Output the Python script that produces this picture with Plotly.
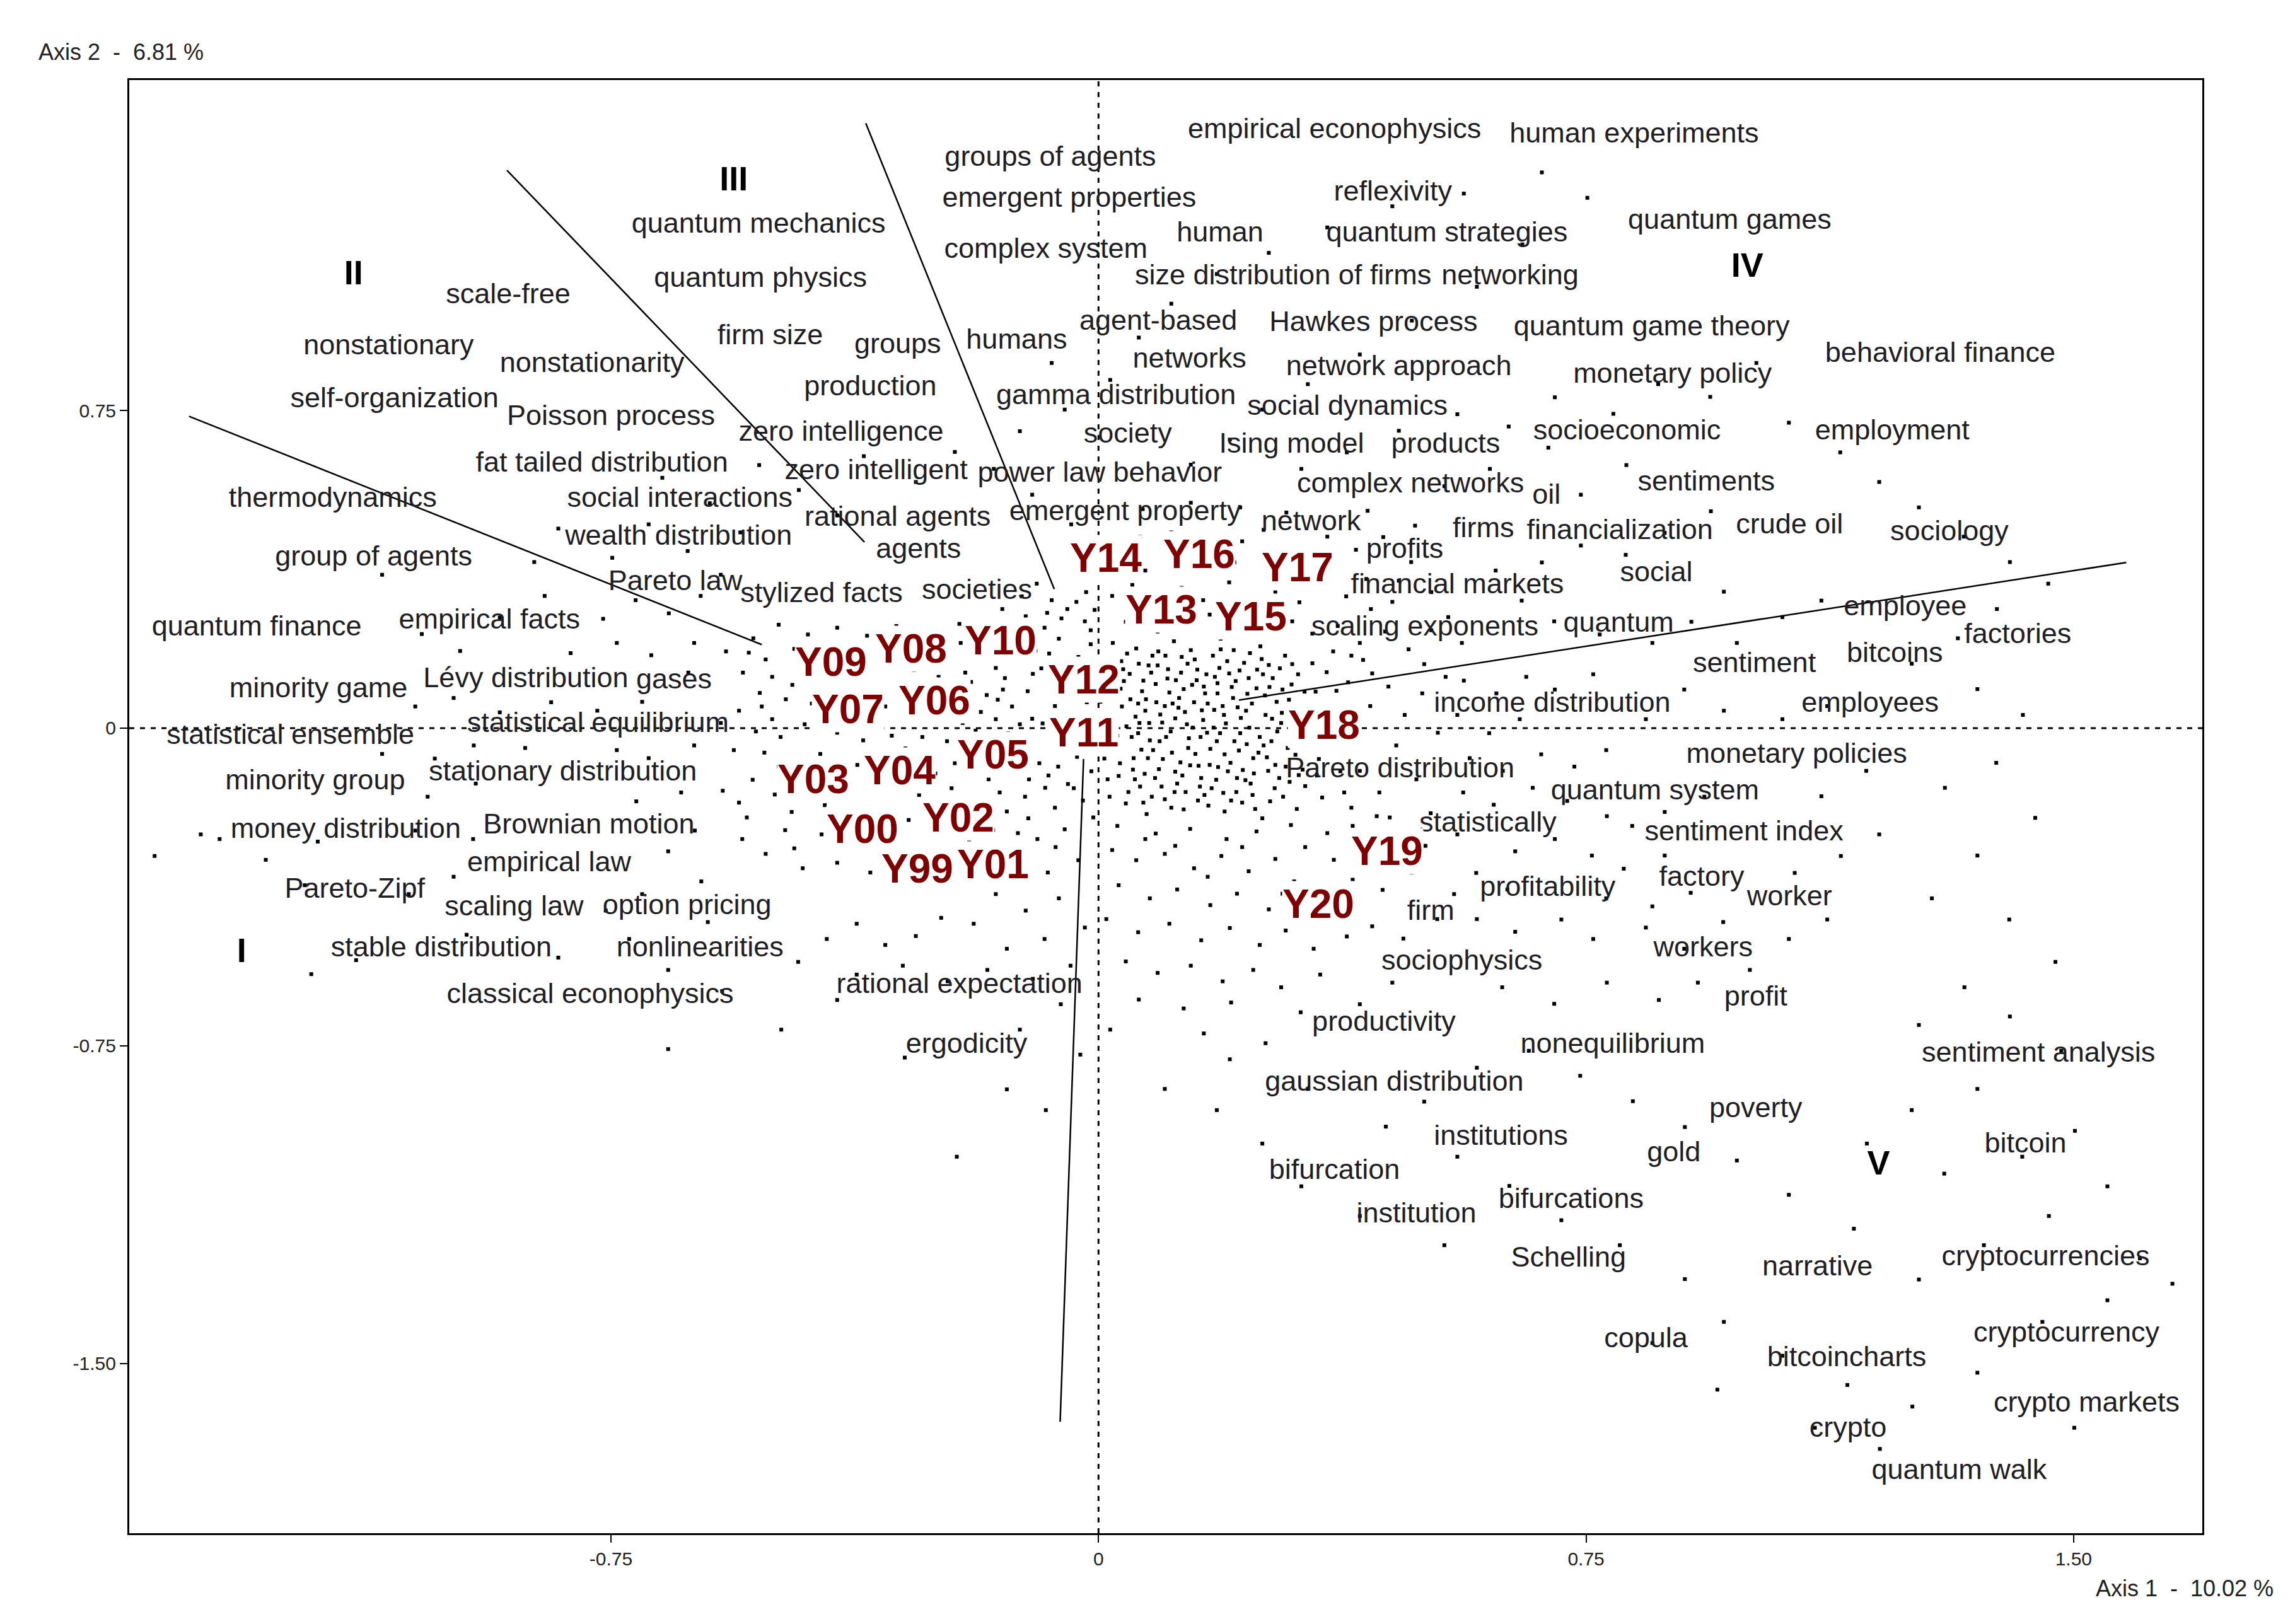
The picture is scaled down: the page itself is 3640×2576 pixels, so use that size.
import plotly.graph_objects as go

# --- axes -------------------------------------------------------------
x_range = [-1.491, 1.698]
y_range = [-1.901, 1.530]
x_ticks = [-0.75, 0, 0.75, 1.5]
x_tick_text = ["-0.75", "0", "0.75", "1.50"]
y_ticks = [-1.5, -0.75, 0, 0.75]
y_tick_text = ["-1.50", "-0.75", "0", "0.75"]

# --- word labels (axis 1, axis 2 coordinates) ---------------------------
word_labels = [
    "empirical econophysics", "human experiments", "groups of agents", "emergent properties",
    "reflexivity", "quantum strategies", "quantum games", "human", "complex system",
    "size distribution of firms", "networking", "scale-free", "quantum mechanics",
    "quantum physics", "firm size", "groups", "humans", "agent-based", "Hawkes process",
    "quantum game theory", "behavioral finance", "nonstationary", "nonstationarity",
    "networks", "network approach", "monetary policy", "production", "gamma distribution",
    "social dynamics", "self-organization", "Poisson process", "zero intelligence",
    "society", "Ising model", "products", "socioeconomic", "employment",
    "fat tailed distribution", "zero intelligent", "power law behavior", "complex networks",
    "oil", "sentiments", "thermodynamics", "social interactions", "rational agents",
    "emergent property", "network", "firms", "financialization", "crude oil", "sociology",
    "wealth distribution", "group of agents", "agents", "profits", "social", "Pareto law",
    "stylized facts", "societies", "financial markets", "employee", "factories",
    "scaling exponents", "quantum", "quantum finance", "empirical facts", "sentiment",
    "bitcoins", "minority game", "Lévy distribution", "gases", "income distribution",
    "employees", "statistical ensemble", "statistical equilibrium", "monetary policies",
    "minority group", "stationary distribution", "Pareto distribution", "quantum system",
    "money distribution", "Brownian motion", "statistically", "sentiment index",
    "empirical law", "Pareto-Zipf", "scaling law", "option pricing", "firm",
    "profitability", "factory", "worker", "stable distribution", "nonlinearities",
    "workers", "sociophysics", "rational expectation", "classical econophysics", "profit",
    "productivity", "ergodicity", "nonequilibrium", "sentiment analysis",
    "gaussian distribution", "poverty", "institutions", "gold", "bitcoin", "bifurcation",
    "bifurcations", "institution", "Schelling", "narrative", "cryptocurrencies", "copula",
    "cryptocurrency", "bitcoincharts", "crypto markets", "crypto", "quantum walk",
]
word_x = [
    0.363, 0.824, -0.074, -0.045,
    0.453, 0.536, 0.971, 0.187, -0.081,
    0.284, 0.633, -0.908, -0.523,
    -0.520, -0.505, -0.309, -0.126, 0.092, 0.423,
    0.851, 1.295, -1.092, -0.779,
    0.140, 0.462, 0.883, -0.351, 0.027,
    0.383, -1.083, -0.750, -0.396,
    0.045, 0.297, 0.534, 0.813, 1.221,
    -0.764, -0.342, 0.002, 0.480,
    0.689, 0.935, -1.178, -0.644, -0.309,
    0.041, 0.327, 0.592, 0.802, 1.063, 1.309,
    -0.646, -1.115, -0.277, 0.471, 0.858, -0.651,
    -0.426, -0.187, 0.552, 1.241, 1.414,
    0.502, 0.800, -1.295, -0.937, 1.009,
    1.225, -1.200, -0.881, -0.653, 0.698,
    1.187, -1.243, -0.770, 1.074,
    -1.205, -0.824, 0.464, 0.856,
    -1.158, -0.784, 0.599, 0.993,
    -0.845, -1.144, -0.899, -0.633, 0.511,
    0.691, 0.928, 1.063, -1.011, -0.613,
    0.930, 0.559, -0.214, -0.782, 1.011,
    0.439, -0.203, 0.791, 1.446,
    0.455, 1.011, 0.619, 0.885, 1.426, 0.363,
    0.727, 0.489, 0.723, 1.106, 1.457, 0.842,
    1.489, 1.151, 1.520, 1.153, 1.324,
]
word_y = [
    1.410, 1.400, 1.345, 1.248,
    1.262, 1.165, 1.196, 1.165, 1.127,
    1.065, 1.065, 1.020, 1.186,
    1.058, 0.923, 0.902, 0.913, 0.957, 0.954,
    0.944, 0.881, 0.899, 0.857,
    0.868, 0.850, 0.833, 0.802, 0.781,
    0.757, 0.774, 0.733, 0.695,
    0.691, 0.667, 0.667, 0.698, 0.698,
    0.622, 0.605, 0.598, 0.574,
    0.546, 0.577, 0.539, 0.539, 0.494,
    0.508, 0.484, 0.467, 0.463, 0.477, 0.460,
    0.449, 0.401, 0.418, 0.418, 0.363, 0.342,
    0.315, 0.321, 0.335, 0.283, 0.218,
    0.235, 0.245, 0.235, 0.252, 0.149,
    0.173, 0.090, 0.114, 0.111, 0.055,
    0.055, -0.021, 0.007, -0.066,
    -0.128, -0.107, -0.100, -0.152,
    -0.242, -0.232, -0.228, -0.249,
    -0.321, -0.384, -0.425, -0.422, -0.436,
    -0.380, -0.356, -0.401, -0.522, -0.522,
    -0.522, -0.553, -0.608, -0.633, -0.639,
    -0.698, -0.750, -0.750, -0.771,
    -0.840, -0.902, -0.968, -1.006, -0.985, -1.047,
    -1.116, -1.151, -1.255, -1.275, -1.251, -1.445,
    -1.431, -1.490, -1.597, -1.656, -1.756,
]

# --- year points --------------------------------------------------------
year_labels = ["Y99", "Y00", "Y01", "Y02", "Y03", "Y04", "Y05", "Y06", "Y07", "Y08",
               "Y09", "Y10", "Y11", "Y12", "Y13", "Y14", "Y15", "Y16", "Y17", "Y18",
               "Y19", "Y20"]
year_x = [-0.279, -0.363, -0.162, -0.216, -0.439, -0.306, -0.162, -0.252, -0.385, -0.288,
          -0.412, -0.151, -0.023, -0.023, 0.097, 0.011, 0.234, 0.155, 0.306, 0.347,
          0.444, 0.338]
year_y = [-0.332, -0.239, -0.321, -0.211, -0.121, -0.100, -0.062, 0.066, 0.045, 0.187,
          0.156, 0.207, -0.010, 0.114, 0.280, 0.401, 0.263, 0.411, 0.380, 0.007,
          -0.290, -0.415]

# --- cluster zones ------------------------------------------------------
zone_labels = ["I", "II", "III", "IV", "V"]
zone_x = [-1.318, -1.146, -0.561, 0.998, 1.200]
zone_y = [-0.532, 1.068, 1.289, 1.085, -1.034]

# separating segments: (x0, y0) -> (x1, y1)
sep_x0 = [-1.399, -0.910, -0.358, 1.581, -0.023]
sep_y0 = [0.736, 1.317, 1.428, 0.391, -0.073]
sep_x1 = [-0.518, -0.360, -0.068, 0.216, -0.059]
sep_y1 = [0.197, 0.439, 0.328, 0.066, -1.638]

# --- cloud of individual documents ------------------------------------
core_dots = [
    (0.021, 0.162), (0.048, 0.128), (0.083, 0.171), (0.107, 0.139), (0.142, 0.184), (0.166, 0.127),
    (0.198, 0.158), (0.231, 0.118), (0.262, 0.149), (0.034, 0.093), (0.061, 0.058), (0.088, 0.104),
    (0.124, 0.071), (0.151, 0.113), (0.183, 0.082), (0.214, 0.049), (0.243, 0.094), (0.274, 0.062),
    (0.297, 0.103), (0.012, 0.031), (0.043, 0.004), (0.072, 0.041), (0.098, 0.013), (0.133, 0.038),
    (0.161, 0.019), (0.187, -0.012), (0.219, 0.024), (0.248, -0.021), (0.281, 0.012), (0.026, -0.043),
    (0.054, -0.071), (0.079, -0.029), (0.113, -0.058), (0.139, -0.024), (0.172, -0.049), (0.203, -0.082),
    (0.228, -0.038), (0.259, -0.069), (0.291, -0.047), (0.031, -0.113), (0.064, -0.138), (0.093, -0.097),
    (0.121, -0.131), (0.154, -0.089), (0.181, -0.122), (0.212, -0.151), (0.239, -0.107), (0.271, -0.142),
    (0.042, -0.178), (0.074, -0.203), (0.102, -0.168), (0.131, -0.192), (0.163, -0.158), (0.194, -0.197),
    (0.221, -0.176), (0.252, -0.213), (0.015, 0.112), (0.067, 0.087), (0.091, 0.148), (0.118, 0.023),
    (0.147, 0.061), (0.176, 0.171), (0.205, 0.097), (0.236, 0.058), (0.268, 0.118), (0.018, -0.008),
    (0.057, 0.027), (0.084, -0.052), (0.126, -0.081), (0.158, -0.118), (0.191, 0.052), (0.226, -0.123),
    (0.257, 0.031), (0.288, -0.091), (0.036, 0.051), (0.071, -0.108), (0.109, 0.084), (0.137, 0.152),
    (0.169, -0.183), (0.201, 0.129), (0.233, 0.177), (0.264, -0.173), (0.009, -0.072), (0.046, -0.151),
    (0.097, -0.138), (0.145, 0.001), (0.178, 0.043), (0.209, -0.031), (0.246, -0.058), (0.278, -0.118),
    (0.312, 0.041), (0.326, -0.028), (0.318, -0.137), (0.334, 0.086), (0.305, -0.191), (0.339, -0.073),
    (0.022, 0.201), (0.058, 0.188), (0.116, 0.205), (0.188, 0.211), (0.249, 0.193), (0.287, 0.171),
    (0.351, 0.132), (0.362, 0.021), (0.344, -0.164), (0.372, -0.102), (0.029, -0.231), (0.088, -0.249),
    (0.141, -0.238), (0.197, -0.262), (0.243, -0.244), (0.296, -0.229), (0.003, 0.062), (0.014, -0.121),
    (0.061, -0.012), (0.104, -0.021), (0.149, -0.061), (0.183, 0.106), (0.217, 0.136), (0.222, -0.099),
    (0.256, 0.077), (0.275, -0.008), (0.303, -0.063), (0.119, 0.113), (0.081, 0.131), (0.134, -0.151),
    (0.171, -0.087), (0.069, -0.176), (0.192, -0.153), (0.038, 0.139), (0.102, 0.052), (0.164, 0.082),
    (0.196, 0.011), (0.053, -0.098), (0.118, -0.103), (0.237, -0.158), (0.078, 0.012), (0.208, 0.184),
    (0.027, 0.072), (0.044, 0.176), (0.069, 0.112), (0.076, -0.071), (0.095, 0.032), (0.112, -0.188),
    (0.128, 0.168), (0.131, 0.092), (0.138, -0.047), (0.152, 0.138), (0.157, -0.021), (0.168, 0.058),
    (0.174, -0.142), (0.186, 0.142), (0.194, -0.062), (0.207, 0.071), (0.213, -0.118), (0.224, 0.154),
    (0.232, 0.001), (0.241, -0.191), (0.253, 0.127), (0.261, -0.101), (0.267, 0.022), (0.279, 0.141),
    (0.284, -0.162), (0.293, 0.067), (0.299, -0.012), (0.307, 0.127), (0.314, -0.098), (0.322, 0.008),
    (0.329, 0.153), (0.336, -0.112), (0.341, 0.051), (0.357, -0.041), (0.366, 0.088), (0.378, -0.152),
    (0.011, 0.142), (0.017, -0.162), (0.024, 0.012), (0.033, -0.083), (0.039, 0.111), (0.051, -0.021),
    (0.062, 0.152), (0.066, -0.051), (0.073, 0.068), (0.087, -0.118), (0.092, 0.181), (0.099, -0.073),
    (0.106, 0.117), (0.111, -0.008), (0.123, 0.048), (0.129, -0.112), (0.144, 0.102), (0.153, -0.171),
    (0.159, 0.042), (0.177, 0.001), (0.182, -0.031), (0.188, 0.186), (0.199, -0.102), (0.216, -0.053),
    (0.229, 0.081), (0.238, -0.071), (0.251, 0.163), (0.266, -0.031), (0.283, 0.091), (0.294, -0.127),
    (0.007, 0.088), (0.029, -0.018), (0.035, 0.158), (0.049, 0.068), (0.056, -0.121), (0.063, 0.012),
    (0.077, 0.148), (0.082, -0.162), (0.089, 0.061), (0.094, -0.031), (0.103, 0.171), (0.114, 0.058),
    (0.117, -0.151), (0.127, 0.131), (0.136, 0.009), (0.141, -0.088), (0.148, 0.162), (0.156, -0.138),
    (0.162, 0.098), (0.167, -0.011), (0.179, 0.121), (0.184, -0.092), (0.193, 0.031), (0.204, -0.171),
    (0.211, 0.111), (0.218, -0.012), (0.227, 0.041), (0.234, -0.131), (0.244, 0.138), (0.254, -0.041),
    (0.263, 0.097), (0.272, -0.087), (0.282, 0.036), (0.298, 0.151), (0.308, -0.111), (0.317, 0.086),
]
inner_dots = [
    (-0.021, 0.252), (-0.048, 0.281), (-0.083, 0.237), (-0.112, 0.264), (-0.139, 0.229), (-0.012, 0.198),
    (-0.061, 0.211), (-0.097, 0.182), (-0.128, 0.203), (-0.031, 0.168), (-0.088, 0.141), (-0.124, 0.159),
    (-0.144, 0.118), (-0.109, 0.087), (-0.133, 0.051), (-0.102, 0.022), (-0.139, -0.012), (-0.118, -0.047),
    (-0.091, -0.083), (-0.128, -0.104), (-0.062, -0.091), (-0.033, -0.068), (-0.011, -0.102), (-0.047, -0.132),
    (-0.082, -0.141), (-0.113, -0.162), (-0.019, 0.321), (-0.072, 0.302), (-0.118, 0.311), (-0.041, 0.354),
    (-0.095, 0.341), (-0.006, 0.279), (-0.148, 0.281), (-0.155, 0.067), (-0.162, -0.071), (-0.024, -0.171),
    (-0.067, -0.188), (-0.108, -0.213), (-0.141, -0.197), (-0.008, -0.211), (-0.052, -0.239), (-0.094, -0.262),
    (-0.012, 0.231), (-0.057, 0.259), (-0.076, 0.176), (-0.101, 0.128), (-0.172, 0.231), (-0.214, 0.246),
    (-0.263, 0.228), (-0.311, 0.241), (-0.356, 0.218), (-0.402, 0.237), (-0.447, 0.221), (-0.492, 0.244),
    (-0.531, 0.212), (-0.188, 0.171), (-0.238, 0.162), (-0.339, 0.148), (-0.468, 0.187), (-0.512, 0.162),
    (-0.547, 0.131), (-0.196, 0.109), (-0.233, 0.081), (-0.471, 0.102), (-0.521, 0.083), (-0.553, 0.041),
    (-0.181, 0.038), (-0.209, 0.012), (-0.452, 0.009), (-0.489, -0.021), (-0.527, -0.008), (-0.561, -0.052),
    (-0.191, -0.041), (-0.233, -0.031), (-0.271, -0.021), (-0.318, -0.018), (-0.362, -0.029), (-0.402, -0.011),
    (-0.221, -0.083), (-0.251, -0.107), (-0.492, -0.091), (-0.532, -0.122), (-0.498, -0.157), (-0.472, -0.198),
    (-0.541, -0.211), (-0.421, -0.182), (-0.276, -0.158), (-0.292, -0.217), (-0.181, -0.197), (-0.199, -0.264),
    (-0.426, -0.251), (-0.468, -0.284), (-0.512, -0.297), (-0.402, -0.318), (-0.351, -0.341), (-0.238, -0.301),
    (-0.192, -0.342), (-0.168, -0.288), (-0.455, -0.331), (-0.548, -0.262), (-0.578, -0.148), (-0.581, 0.012),
    (-0.573, 0.181), (-0.169, -0.121), (-0.263, 0.032), (-0.328, 0.051), (-0.342, -0.062), (-0.212, 0.201),
    (-0.381, 0.192), (-0.431, 0.162), (-0.366, 0.112), (-0.189, -0.006),
    (-0.018, 0.061), (-0.041, 0.032), (-0.067, 0.052), (-0.086, 0.011), (-0.121, 0.009), (-0.147, 0.091),
    (-0.158, 0.142), (-0.172, 0.078), (-0.184, -0.082), (-0.205, 0.131), (-0.226, -0.142), (-0.246, 0.121),
    (-0.258, -0.068), (-0.284, 0.137), (-0.297, -0.048), (-0.305, -0.131), (-0.322, 0.178), (-0.347, 0.022),
    (-0.371, -0.087), (-0.392, 0.071), (-0.411, 0.121), (-0.428, -0.061), (-0.441, 0.058), (-0.462, -0.132),
    (-0.481, 0.068), (-0.502, 0.021), (-0.514, -0.058), (-0.538, 0.178), (-0.029, -0.031), (-0.152, -0.152),
    (-0.066, -0.281), (-0.124, -0.248), (-0.162, -0.241), (-0.214, -0.221), (-0.318, -0.271), (-0.371, -0.241),
    (-0.338, -0.198), (-0.391, -0.151), (-0.445, -0.092), (-0.421, 0.021), (-0.502, 0.121), (-0.553, -0.176),
    (-0.117, 0.192), (-0.131, 0.248), (-0.079, 0.272), (-0.034, 0.298), (-0.107, -0.121), (-0.142, -0.061),
    (-0.077, -0.112), (-0.038, -0.142), (-0.158, 0.021), (-0.167, 0.186), (-0.482, -0.241), (-0.518, 0.051),
]
mid_dots = [
    (0.021, 0.312), (0.052, 0.338), (0.128, 0.331), (0.161, 0.302), (0.201, 0.344), (0.272, 0.321),
    (0.309, 0.297), (0.348, 0.338), (0.381, 0.311), (0.419, 0.281), (0.452, 0.298), (0.031, 0.421),
    (0.064, 0.452), (0.112, 0.462), (0.221, 0.441), (0.254, 0.468), (0.352, 0.452), (0.396, 0.421),
    (0.438, 0.451), (0.481, 0.392), (0.329, 0.223), (0.368, 0.241), (0.402, 0.201), (0.441, 0.228),
    (0.477, 0.186), (0.501, 0.151), (0.389, 0.171), (0.421, 0.129), (0.361, 0.181), (0.042, 0.251),
    (0.091, 0.228), (0.148, 0.241), (0.191, 0.232), (0.238, 0.262), (0.011, 0.382), (0.188, 0.372),
    (0.209, 0.391), (0.288, 0.408), (0.318, 0.372), (0.462, 0.348), (0.512, 0.321), (0.538, 0.262),
    (0.559, 0.201), (0.512, 0.231), (0.068, 0.517), (0.142, 0.532), (0.218, 0.521), (0.289, 0.509),
    (0.414, 0.513), (0.487, 0.478), (0.021, -0.288), (0.058, -0.312), (0.102, -0.297), (0.147, -0.331),
    (0.189, -0.302), (0.231, -0.338), (0.272, -0.309), (0.318, -0.281), (0.352, -0.248), (0.391, -0.231),
    (0.428, -0.208), (0.031, -0.371), (0.079, -0.402), (0.121, -0.381), (0.172, -0.418), (0.213, -0.391),
    (0.262, -0.428), (0.301, -0.362), (0.391, -0.358), (0.437, -0.382), (0.482, -0.341), (0.012, -0.451),
    (0.061, -0.482), (0.109, -0.462), (0.158, -0.501), (0.202, -0.472), (0.248, -0.512), (0.288, -0.478),
    (0.331, -0.521), (0.382, -0.492), (0.421, -0.468), (0.469, -0.497), (0.042, -0.551), (0.091, -0.578),
    (0.142, -0.561), (0.191, -0.598), (0.238, -0.571), (0.281, -0.612), (0.341, -0.582), (0.452, -0.601),
    (0.521, -0.451), (0.547, -0.392), (0.503, -0.278), (0.461, -0.262), (0.062, -0.641), (0.131, -0.662),
    (0.204, -0.648), (0.311, -0.671), (0.018, -0.712), (0.162, -0.721), (0.257, -0.744), (0.402, -0.652),
    (-0.031, -0.312), (-0.078, -0.341), (-0.122, -0.318), (-0.061, -0.402), (-0.112, -0.431), (-0.158, -0.392),
    (-0.021, -0.471), (-0.083, -0.498), (-0.141, -0.521), (-0.192, -0.462), (-0.242, -0.448), (-0.281, -0.491),
    (-0.328, -0.512), (-0.372, -0.462), (-0.418, -0.498), (-0.043, -0.561), (-0.101, -0.592), (-0.171, -0.571),
    (-0.232, -0.598), (-0.301, -0.561), (-0.372, -0.582), (-0.462, -0.552), (-0.058, -0.652), (-0.121, -0.712),
    (-0.028, -0.771), (-0.141, -0.853), (-0.081, -0.902), (-0.218, -1.012), (-0.298, -0.778), (-0.402, -0.642),
    (-0.488, -0.712),
    (0.402, -0.101), (0.418, 0.052), (0.432, -0.152), (0.446, 0.098), (0.458, -0.041), (0.471, 0.031),
    (0.489, -0.121), (0.498, 0.082), (0.511, -0.201), (0.522, -0.011), (0.534, 0.121), (0.389, -0.188),
    (0.384, 0.108), (0.407, 0.161), (0.448, -0.211), (0.072, -0.262), (0.118, -0.278), (0.168, -0.351),
    (0.221, -0.281), (0.283, -0.391), (0.338, -0.431), (0.362, -0.311), (0.097, 0.281), (0.171, 0.268),
    (0.258, 0.238), (0.298, 0.252), (0.072, 0.372), (0.139, 0.401), (0.262, 0.362), (0.412, 0.352),
]
outer_dots = [
    (-0.612, 0.312), (-0.661, 0.271), (-0.712, 0.302), (-0.762, 0.258), (-0.622, 0.201), (-0.688, 0.172),
    (-0.741, 0.201), (-0.812, 0.177), (-0.631, 0.131), (-0.702, 0.062), (-0.771, 0.041), (-0.842, 0.061),
    (-0.921, 0.037), (-0.992, 0.071), (-1.051, 0.051), (-0.622, -0.041), (-0.692, -0.071), (-0.741, -0.052),
    (-0.882, -0.047), (-0.961, -0.041), (-1.021, -0.072), (-1.102, -0.061), (-0.642, -0.152), (-0.711, -0.173),
    (-0.958, -0.131), (-1.032, -0.162), (-0.621, -0.242), (-0.662, -0.291), (-0.962, -0.262), (-1.051, -0.242),
    (-1.201, -0.268), (-1.352, -0.262), (-1.281, -0.311), (-0.611, -0.362), (-0.702, -0.392), (-0.758, -0.431),
    (-0.992, -0.351), (-1.061, -0.392), (-1.221, -0.371), (-0.601, -0.458), (-0.722, -0.498), (-0.972, -0.488),
    (-1.142, -0.548), (-1.211, -0.581), (-0.831, -0.542), (-0.662, -0.571), (-0.579, -0.621), (-0.852, 0.312),
    (-0.921, 0.261), (-0.982, 0.182), (-1.041, 0.222), (-0.868, 0.392), (-0.632, 0.418), (-0.692, 0.481),
    (-0.748, 0.402), (-0.581, 0.362), (-0.551, 0.462), (-0.598, 0.531), (-0.671, 0.591), (-0.831, 0.471),
    (-1.102, 0.362), (-0.662, -0.758), (-1.452, -0.302), (-1.381, -0.251),
    (0.562, 0.112), (0.612, 0.082), (0.658, 0.121), (0.702, 0.091), (0.761, 0.127), (0.552, 0.031),
    (0.601, -0.012), (0.648, 0.021), (0.842, 0.021), (0.901, 0.091), (0.962, 0.041), (0.571, -0.071),
    (0.622, -0.101), (0.681, -0.062), (0.732, -0.091), (0.781, -0.052), (0.561, -0.152), (0.608, -0.181),
    (0.668, -0.141), (0.721, -0.172), (0.782, -0.208), (0.821, -0.231), (0.871, -0.198), (0.932, -0.162),
    (0.552, -0.251), (0.641, -0.291), (0.702, -0.262), (0.759, -0.301), (0.808, -0.332), (0.871, -0.301),
    (0.581, -0.342), (0.629, -0.381), (0.781, -0.402), (0.852, -0.421), (0.911, -0.389), (0.582, -0.451),
    (0.641, -0.481), (0.712, -0.452), (0.761, -0.498), (0.842, -0.471), (0.901, -0.521), (0.961, -0.458),
    (0.621, -0.612), (0.701, -0.651), (0.782, -0.601), (0.862, -0.642), (0.922, -0.601), (1.002, -0.571),
    (1.062, -0.498), (1.121, -0.452), (1.071, -0.342), (1.142, -0.302), (1.201, -0.251), (1.112, -0.161),
    (1.181, -0.101), (1.052, 0.021), (1.121, 0.052), (0.982, 0.201), (1.052, 0.262), (1.112, 0.301),
    (0.962, 0.322), (0.912, 0.251), (0.852, 0.201), (0.771, 0.221), (0.701, 0.252), (0.651, 0.301),
    (0.611, 0.372), (0.682, 0.391), (0.742, 0.431), (0.811, 0.409), (0.871, 0.461), (0.942, 0.512),
    (0.742, 0.551), (0.812, 0.621), (0.692, 0.662), (0.602, 0.612), (0.532, 0.571),
    (0.312, 0.612), (0.382, 0.651), (0.462, 0.702), (0.552, 0.741), (0.631, 0.712), (0.702, 0.781),
    (0.792, 0.742), (0.861, 0.812), (0.941, 0.782), (1.012, 0.862), (1.062, 0.721), (1.141, 0.651),
    (1.201, 0.581), (1.262, 0.521), (1.331, 0.452), (1.402, 0.392), (1.461, 0.341), (1.382, 0.281),
    (1.322, 0.212), (1.251, 0.152), (1.352, 0.092), (1.422, 0.031), (1.381, -0.082), (1.302, -0.141),
    (1.441, -0.212), (1.352, -0.301), (1.282, -0.402), (1.401, -0.452), (1.472, -0.552), (1.332, -0.612),
    (1.262, -0.701), (1.402, -0.681), (1.481, -0.762), (1.352, -0.852), (1.251, -0.902), (1.182, -0.981),
    (1.301, -1.052), (1.421, -1.012), (1.502, -0.951), (1.552, -1.082), (1.462, -1.152), (1.362, -1.221),
    (1.262, -1.302), (1.162, -1.182), (1.062, -1.102), (0.982, -1.021), (0.902, -0.942), (0.822, -0.881),
    (0.741, -0.821), (0.662, -0.762), (0.582, -0.802), (0.501, -0.882), (0.442, -0.941), (0.552, -1.012),
    (0.632, -1.081), (0.712, -1.162), (0.802, -1.221), (0.902, -1.301), (0.962, -1.402), (1.052, -1.482),
    (1.152, -1.551), (1.252, -1.602), (1.352, -1.522), (1.452, -1.402), (1.552, -1.351), (1.602, -1.252),
    (1.652, -1.312), (1.501, -1.652), (1.202, -1.702), (1.102, -1.652), (0.952, -1.562), (0.852, -1.452),
    (0.532, -1.221), (0.402, -1.152), (0.312, -1.082), (0.252, -0.981), (0.182, -0.902), (0.102, -0.852),
    (0.322, -0.852), (0.202, -0.782),
    (-0.402, 0.502), (-0.461, 0.562), (-0.522, 0.621), (-0.361, 0.642), (-0.281, 0.581), (-0.221, 0.652),
    (-0.161, 0.612), (-0.102, 0.551), (-0.042, 0.481), (-0.121, 0.701), (-0.052, 0.752), (0.018, 0.822),
    (-0.072, 0.862), (0.062, 0.922), (0.112, 1.002), (0.182, 1.072), (0.262, 1.122), (0.352, 1.182),
    (0.452, 1.232), (0.562, 1.262), (0.682, 1.312), (0.752, 1.252), (0.652, 1.142), (0.582, 1.042),
    (0.482, 0.962), (0.402, 0.882), (0.322, 0.812), (0.252, 0.752), (0.202, 0.681), (0.142, 0.622),
]

all_dots = core_dots + inner_dots + mid_dots + outer_dots
dot_x = [p[0] for p in all_dots]
dot_y = [p[1] for p in all_dots]

BASE_FONT = "Liberation Sans, Arial, sans-serif"

fig = go.Figure()

fig.add_trace(go.Scatter(x=dot_x, y=dot_y, mode="markers",
                         marker=dict(size=6, color="black", symbol="square"),
                         hoverinfo="skip", showlegend=False))

for i in range(len(sep_x0)):
    fig.add_trace(go.Scatter(x=[sep_x0[i], sep_x1[i]], y=[sep_y0[i], sep_y1[i]],
                             mode="lines", line=dict(color="black", width=2.5),
                             hoverinfo="skip", showlegend=False))

fig.add_trace(go.Scatter(x=word_x, y=word_y, mode="text", text=word_labels,
                         textposition="middle center",
                         textfont=dict(family=BASE_FONT, size=45, color="#1e1e24"),
                         hoverinfo="skip", showlegend=False))

fig.add_trace(go.Scatter(x=zone_x, y=zone_y, mode="text", text=zone_labels,
                         textposition="middle center",
                         textfont=dict(family=BASE_FONT, size=54, color="black", weight="bold"),
                         hoverinfo="skip", showlegend=False))

for lab, xx, yy in zip(year_labels, year_x, year_y):
    fig.add_annotation(x=xx, y=yy, text="<b>" + lab + "</b>", showarrow=False,
                       font=dict(family=BASE_FONT, size=64, color="#800000"),
                       bgcolor="white", borderpad=0)

# dotted reference lines through the origin
fig.add_shape(type="line", x0=0, x1=0, y0=y_range[0], y1=y_range[1],
              line=dict(color="black", width=3, dash="8px,9px"), layer="below")
fig.add_shape(type="line", x0=x_range[0], x1=x_range[1], y0=0, y1=0,
              line=dict(color="black", width=3, dash="8px,9px"), layer="below")

axis_common = dict(showgrid=False, zeroline=False, showline=True, mirror=True,
                   linecolor="black", linewidth=3, ticks="outside", ticklen=12,
                   tickwidth=2, tickcolor="black",
                   tickfont=dict(family=BASE_FONT, size=30, color="#222222"))
fig.update_xaxes(range=x_range, tickvals=x_ticks, ticktext=x_tick_text, **axis_common)
fig.update_yaxes(range=y_range, tickvals=y_ticks, ticktext=y_tick_text, **axis_common)

fig.add_annotation(text="Axis 2  -  6.81 %", xref="paper", yref="paper",
                   x=-0.0444, y=1.0195, xanchor="left", yanchor="middle", showarrow=False,
                   font=dict(family=BASE_FONT, size=36, color="#222222"))
fig.add_annotation(text="Axis 1  -  10.02 %", xref="paper", yref="paper",
                   x=1.035, y=-0.038, xanchor="right", yanchor="middle", showarrow=False,
                   font=dict(family=BASE_FONT, size=36, color="#222222"))

fig.update_layout(width=3640, height=2576,
                  margin=dict(l=197, r=155, t=119, b=152),
                  plot_bgcolor="white", paper_bgcolor="white",
                  showlegend=False)

fig.write_html("out.html")
